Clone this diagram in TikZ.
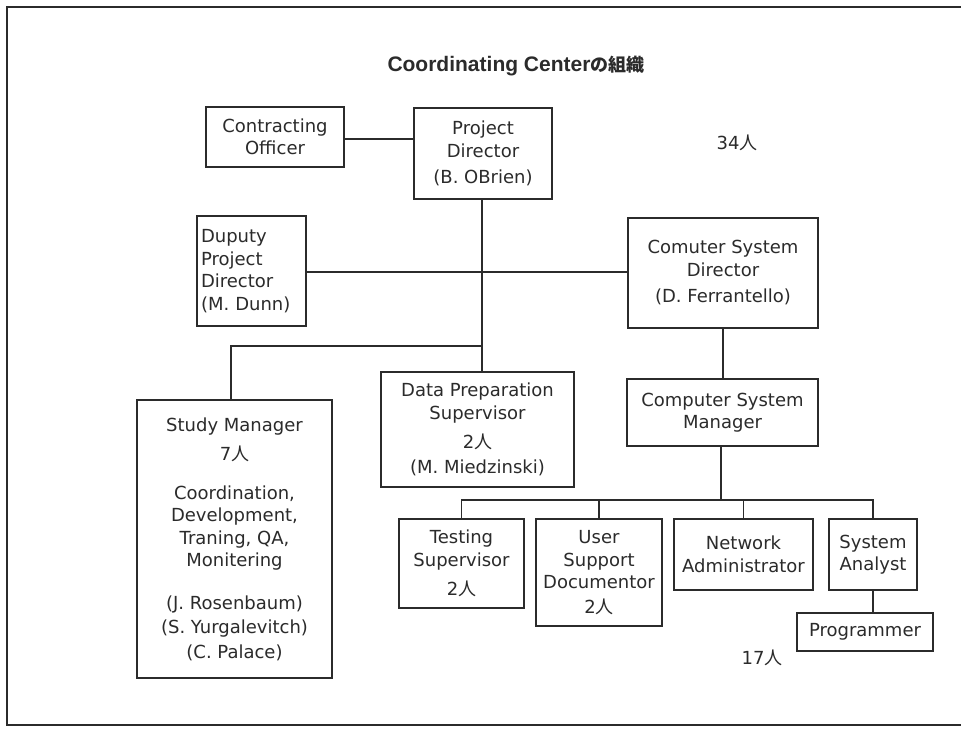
\documentclass[tikz,border=0pt]{standalone}
\usepackage{fontspec}
\setmainfont{DejaVu Sans}
\newfontfamily\cjk{Noto Sans CJK JP}
\newfontfamily\titlelatin{Liberation Sans}
\newcommand{\ppl}{{\cjk 人}}
\definecolor{ink}{HTML}{2B2B2B}
\begin{document}
\begin{tikzpicture}[x=1pt,y=-1pt,
  orgbox/.style={draw=ink, line width=1.4pt, inner sep=0pt, align=center,
    text=ink, font=\fontsize{18}{22.5}\selectfont},
  link/.style={draw=ink, line width=1.4pt},
  note/.style={text=ink, inner sep=0pt, font=\fontsize{18}{22.5}\selectfont}]
\useasboundingbox (0,0) rectangle (961,730);
\fill[white] (0,0) rectangle (961,730);

% outer frame, open on the right
\draw[ink, line width=2.2pt] (975,7) -- (7,7) -- (7,725) -- (975,725);

% title
\node[text=ink, inner sep=0pt] (title) at (516,66)
  {\titlelatin\bfseries\fontsize{21}{24}\selectfont Coordinating Center{\cjk\bfseries\fontsize{18}{24}\selectfont の組織}};

% boxes
\node[orgbox, minimum width=138, minimum height=60] (co) at (275,137)
  {Contracting\\Officer};
\node[orgbox, minimum width=138, minimum height=91] (pd) at (483,153.5)
  {Project\\Director\\[4pt](B. OBrien)};
\node[orgbox, minimum width=109, minimum height=110, text width=101, align=left] (dpd) at (251.5,271)
  {Duputy\\Project\\Director\\(M. Dunn)};
\node[orgbox, minimum width=190, minimum height=110] (csd) at (723,273)
  {Comuter System\\Director\\[4pt](D. Ferrantello)};
\node[orgbox, minimum width=195, minimum height=278] (sm) at (234.5,539)
  {Study Manager\\[7pt]7\ppl\\[16pt]Coordination,\\Development,\\Traning, QA,\\Monitering\\[20pt](J. Rosenbaum)\\[2pt](S. Yurgalevitch)\\[2pt](C. Palace)};
\node[orgbox, minimum width=193, minimum height=115] (dps) at (477.5,429.5)
  {Data Preparation\\Supervisor\\[7pt]2\ppl\\[2pt](M. Miedzinski)};
\node[orgbox, minimum width=191, minimum height=67] (csm) at (722.5,412.5)
  {Computer System\\Manager};
\node[orgbox, minimum width=125, minimum height=89] (ts) at (461.5,563.5)
  {Testing\\Supervisor\\[7pt]2\ppl};
\node[orgbox, minimum width=126, minimum height=107] (us) at (599,572.5)
  {User\\Support\\Documentor\\[2pt]2\ppl};
\node[orgbox, minimum width=139, minimum height=71] (na) at (743.5,554.5)
  {Network\\Administrator};
\node[orgbox, minimum width=88, minimum height=71] (sa) at (873,554.5)
  {System\\Analyst};
\node[orgbox, minimum width=136, minimum height=38] (pg) at (865,632)
  {Programmer};

% head counts
\node[note] (n34) at (737,143) {34\ppl};
\node[note] (n17) at (762,658) {17\ppl};

% connectors
\coordinate (pdstem) at (482,199);
\draw[link] (co.east |- 0,139) -- (pd.west |- 0,139);
\draw[link] (pdstem) -- (pdstem |- dps.north);
\draw[link] (dpd.east |- 0,272) -- (csd.west |- 0,272);
\coordinate (smbus) at (482,346);
\draw[link] (smbus) -| (sm.north -| 231,0);
\draw[link] (csd.south) -- (csd.south |- csm.north);
\coordinate (bus) at (721,500);
\draw[link] (csm.south -| bus) -- (bus);
\draw[link] (ts.north) |- (bus) -| (sa.north);
\draw[link] (us.north) -- (us.north |- bus);
\draw[link] (na.north) -- (na.north |- bus);
\draw[link] (sa.south) -- (sa.south |- pg.north);
\end{tikzpicture}
\end{document}
